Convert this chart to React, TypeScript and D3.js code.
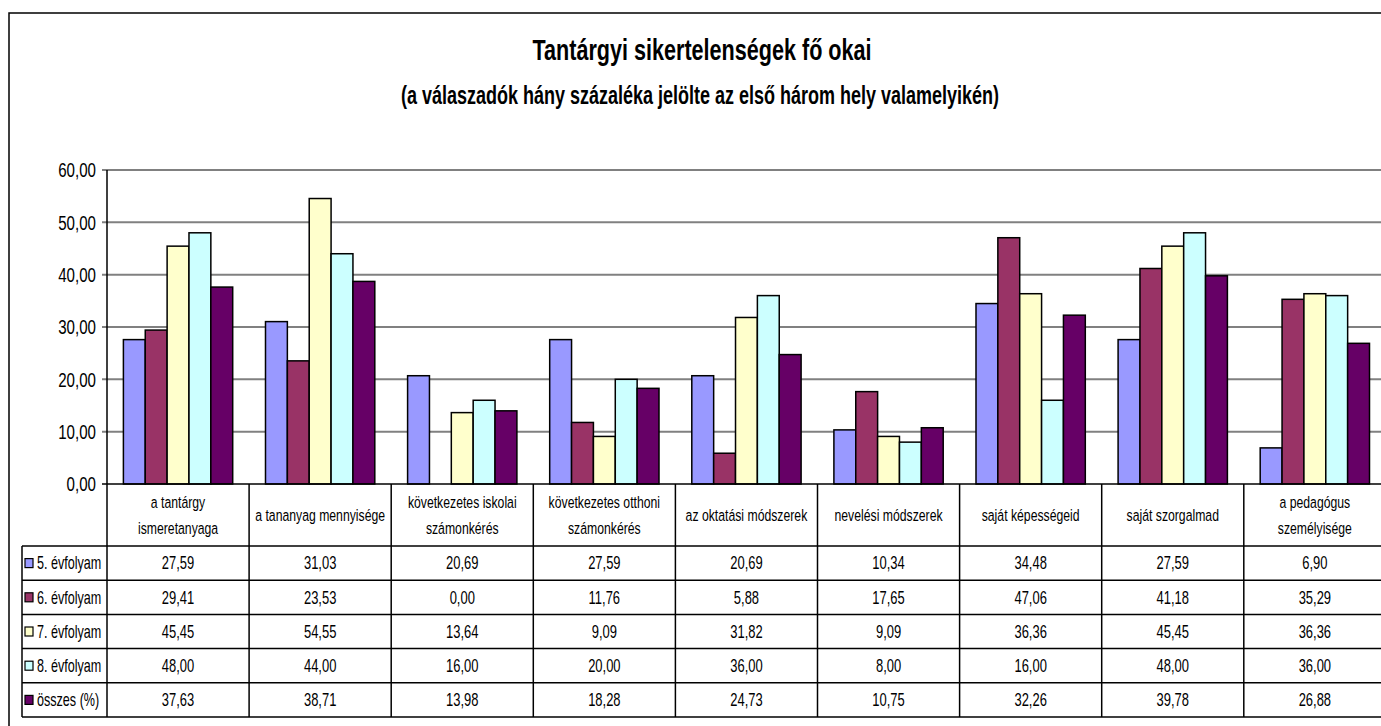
import React from "react";
import * as d3 from "d3";

// chart data
const categories = [
  ["a tantárgy", "ismeretanyaga"],
  ["a tananyag mennyisége"],
  ["következetes iskolai", "számonkérés"],
  ["következetes otthoni", "számonkérés"],
  ["az oktatási módszerek"],
  ["nevelési módszerek"],
  ["saját képességeid"],
  ["saját szorgalmad"],
  ["a pedagógus", "személyisége"],
];
const seriesNames = ["5. évfolyam", "6. évfolyam", "7. évfolyam", "8. évfolyam", "összes (%)"];
const evf5 = [27.59, 31.03, 20.69, 27.59, 20.69, 10.34, 34.48, 27.59, 6.9];
const evf6 = [29.41, 23.53, 0.0, 11.76, 5.88, 17.65, 47.06, 41.18, 35.29];
const evf7 = [45.45, 54.55, 13.64, 9.09, 31.82, 9.09, 36.36, 45.45, 36.36];
const evf8 = [48.0, 44.0, 16.0, 20.0, 36.0, 8.0, 16.0, 48.0, 36.0];
const osszes = [37.63, 38.71, 13.98, 18.28, 24.73, 10.75, 32.26, 39.78, 26.88];
const yTicks = [0, 10, 20, 30, 40, 50, 60];

const seriesValues = [evf5, evf6, evf7, evf8, osszes];
const colors = ["#9999FF", "#993366", "#FFFFCC", "#CCFFFF", "#660066"];

const huLocale = d3.formatLocale({ decimal: ",", thousands: " ", grouping: [3], currency: ["", " Ft"] });
const fmt = huLocale.format(".2f");

const SX = 0.72; // the original text is squeezed horizontally
const FONT = "'Liberation Sans', Arial, sans-serif";

const Txt = ({ x, y, size, anchor = "middle", weight = "normal", baseline = "central", sx = SX, children }: any) => (
  <text
    transform={`translate(${x},${y}) scale(${sx},1)`}
    textAnchor={anchor}
    dominantBaseline={baseline}
    fontSize={size}
    fontWeight={weight}
    fontFamily={FONT}
    fill="#000"
  >
    {children}
  </text>
);

export default function App() {
  const width = 1381;
  const height = 726;
  const left = 107;
  const top = 170;
  const bottom = 484;
  const bandW = 142.1;
  const plotRight = left + bandW * categories.length;
  const tableLeft = 22;
  const headerBottom = 546;
  const rowH = 34.2;

  const x = d3
    .scaleBand<number>()
    .domain(d3.range(categories.length))
    .range([left, plotRight])
    .paddingInner(0)
    .paddingOuter(0);
  const y = d3.scaleLinear().domain([0, 60]).range([bottom, top]);
  const barW = x.bandwidth() / (seriesNames.length + 1.5);
  const groupOffset = (x.bandwidth() - barW * seriesNames.length) / 2;

  const rowY = (i: number) => headerBottom + i * rowH;
  const tableBottom = rowY(seriesNames.length);

  return (
    <svg
      width={width}
      height={height}
      style={{ position: "absolute", left: 0, top: 0, display: "block", background: "#fff" }}
    >
      {/* outer chart frame */}
      <rect x={9} y={13} width={1400} height={730} fill="#fff" stroke="#000" strokeWidth={1.5} />

      <Txt x={702} y={60} size={30} weight="bold" baseline="alphabetic">
        Tantárgyi sikertelenségek fő okai
      </Txt>
      <Txt x={700} y={104} size={25} weight="bold" baseline="alphabetic">
        (a válaszadók hány százaléka jelölte az első három hely valamelyikén)
      </Txt>

      {/* gridlines + y axis labels */}
      {yTicks.map((t) => (
        <g key={t}>
          <line
            x1={left - 5}
            x2={t === 0 ? left : width + 10}
            y1={y(t)}
            y2={y(t)}
            stroke={t === 0 ? "#000" : "#808080"}
            strokeWidth={t === 0 ? 1.5 : 2}
          />
          <Txt x={96} y={y(t)} size={21} anchor="end">
            {fmt(t)}
          </Txt>
        </g>
      ))}

      {/* bars */}
      {seriesValues.map((vals, s) =>
        vals.map((v, i) =>
          v > 0 ? (
            <rect
              key={`${s}-${i}`}
              x={(x(i) as number) + groupOffset + s * barW}
              y={y(v)}
              width={barW}
              height={bottom - y(v)}
              fill={colors[s]}
              stroke="#000"
              strokeWidth={1.5}
            />
          ) : null
        )
      )}

      {/* y axis */}
      <line x1={left} x2={left} y1={top} y2={tableBottom} stroke="#000" strokeWidth={1.5} />

      {/* data table */}
      <line x1={left} x2={width + 10} y1={bottom} y2={bottom} stroke="#000" strokeWidth={1.5} />
      {d3.range(seriesNames.length + 1).map((r) => (
        <line
          key={r}
          x1={tableLeft}
          x2={width + 10}
          y1={rowY(r)}
          y2={rowY(r)}
          stroke="#000"
          strokeWidth={1.5}
        />
      ))}
      <line x1={tableLeft} x2={tableLeft} y1={headerBottom} y2={tableBottom} stroke="#000" strokeWidth={1.5} />
      {d3.range(1, categories.length + 1).map((i) => (
        <line
          key={i}
          x1={left + i * x.bandwidth()}
          x2={left + i * x.bandwidth()}
          y1={bottom}
          y2={tableBottom}
          stroke="#000"
          strokeWidth={1.5}
        />
      ))}

      {/* category labels */}
      {categories.map((lines, i) => {
        const cx = (x(i) as number) + x.bandwidth() / 2;
        const cy = (bottom + headerBottom) / 2;
        return lines.map((ln, k) => (
          <Txt key={`${i}-${k}`} x={cx} y={cy + (k - (lines.length - 1) / 2) * 26} size={17}>
            {ln}
          </Txt>
        ));
      })}

      {/* legend column + values */}
      {seriesNames.map((name, s) => {
        const cy = rowY(s) + rowH / 2;
        return (
          <g key={name}>
            <rect x={25} y={cy - 4.5} width={8} height={9} fill={colors[s]} stroke="#000" strokeWidth={1.2} />
            <Txt x={37} y={cy} size={18} anchor="start" sx={0.7}>
              {name}
            </Txt>
            {seriesValues[s].map((v, i) => (
              <Txt key={i} x={(x(i) as number) + x.bandwidth() / 2} y={cy} size={18}>
                {fmt(v)}
              </Txt>
            ))}
          </g>
        );
      })}
    </svg>
  );
}
